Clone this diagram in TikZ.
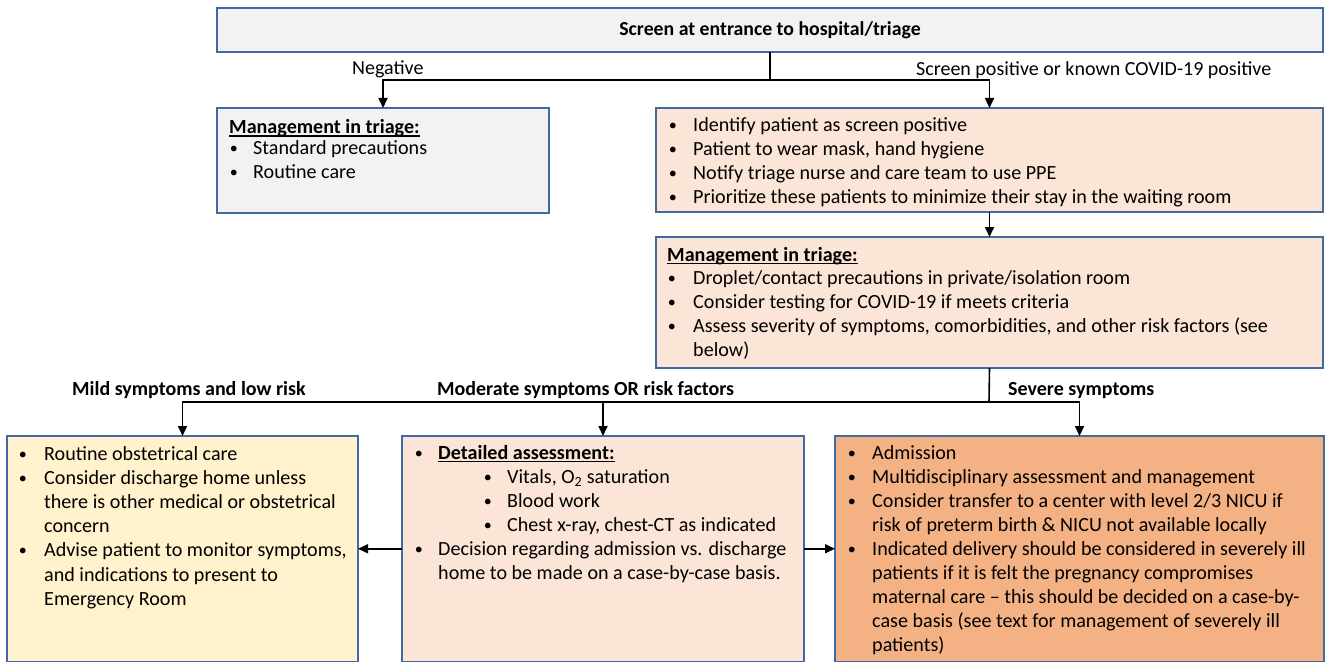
\documentclass[tikz,border=0pt]{standalone}
\usepackage{fontspec}
\setmainfont{Carlito}
\usetikzlibrary{arrows.meta}
\definecolor{bordc}{RGB}{65,105,165}
\definecolor{grayf}{HTML}{F2F2F2}
\definecolor{peachf}{HTML}{FBE5D6}
\definecolor{yellowf}{HTML}{FFF2CC}
\definecolor{orangef}{HTML}{F4B183}
\newlength\bwid
\newcommand\bul{\makebox[\bwid][l]{\hspace{0.6pt}\raisebox{1pt}{\scalebox{0.8}{\textbullet}}}}
\newcommand\ind{\hspace*{\bwid}}
\newcommand\myul[1]{\setbox0\hbox{#1}\rlap{\rule[-2.8pt]{\wd0}{1.3pt}}\box0}
\tikzset{
  box/.style={draw=bordc, line width=1.3pt, anchor=north west, inner sep=0pt, outer sep=0pt},
  conn/.style={line width=1.6pt, -{Triangle[length=10pt,width=9pt]}},
  plain/.style={line width=1.6pt},
  txt/.style={anchor=base west, inner sep=0pt, font=\fontsize{20.1}{24}\selectfont},
  lbl/.style={anchor=base west, inner sep=0pt, font=\fontsize{20}{24}\selectfont},
}
\begin{document}
\begin{tikzpicture}[x=1pt,y=-1pt]
\useasboundingbox (0,0) rectangle (1327,663);
% boxes
\node[box, fill=grayf, minimum width=1106pt, minimum height=44pt, font=\fontsize{19.8}{24}\selectfont\bfseries] (top) at (217,8) {Screen at entrance to hospital/triage};
\node[box, fill=grayf, minimum width=332pt, minimum height=105pt] (neg) at (217,108) {};
\node[box, fill=peachf, minimum width=667pt, minimum height=104pt] (pos1) at (656,108) {};
\node[box, fill=peachf, minimum width=667pt, minimum height=131pt] (pos2) at (656,237) {};
\node[box, fill=yellowf, minimum width=351pt, minimum height=225.5pt] (mild) at (7,436) {};
\node[box, fill=peachf, minimum width=402pt, minimum height=225.5pt] (mod) at (402,436) {};
\node[box, fill=orangef, minimum width=489pt, minimum height=225.5pt] (sev) at (835,436) {};
% texts
\node[txt] (negt) at (229,134) {\setlength\bwid{24pt}\begin{tabular}[t]{@{}l@{}}
\myul{\textbf{Management in triage:}}\\[-3pt]
\bul Standard precautions\\
\bul Routine care
\end{tabular}};
\node[txt, font=\fontsize{20.1}{23.7}\selectfont] (pos1t) at (668,132) {\setlength\bwid{25pt}\begin{tabular}[t]{@{}l@{}}
\bul Identify patient as screen positive\\
\bul Patient to wear mask, hand hygiene\\
\bul Notify triage nurse and care team to use PPE\\
\bul Prioritize these patients to minimize their stay in the waiting room
\end{tabular}};
\node[txt, font=\fontsize{20.1}{23.75}\selectfont] (pos2t) at (667,261) {\setlength\bwid{26pt}\begin{tabular}[t]{@{}l@{}}
\myul{\textbf{Management in triage:}}\\
\bul Droplet/contact precautions in private/isolation room\\
\bul Consider testing for COVID-19 if meets criteria\\
\bul Assess severity of symptoms, comorbidities, and other risk factors (see\\
\ind below)
\end{tabular}};
\node[txt, font=\fontsize{20.1}{24.2}\selectfont] (mildt) at (18,460) {\setlength\bwid{26pt}\begin{tabular}[t]{@{}l@{}}
\bul Routine obstetrical care\\
\bul Consider discharge home unless\\
\ind there is other medical or obstetrical\\
\ind concern\\
\bul Advise patient to monitor symptoms,\\
\ind and indications to present to\\
\ind Emergency Room
\end{tabular}};
\node[txt] (modt) at (414,459) {\setlength\bwid{24pt}\begin{tabular}[t]{@{}l@{}}
\bul \myul{\textbf{Detailed assessment:}}\\
\hspace*{69pt}\bul Vitals, O\textsubscript{2} saturation\\
\hspace*{69pt}\bul Blood work\\
\hspace*{69pt}\bul Chest x-ray, chest-CT as indicated\\
\bul Decision regarding admission vs. discharge\\
\ind home to be made on a case-by-case basis.
\end{tabular}};
\node[txt] (sevt) at (847,459) {\setlength\bwid{25pt}\begin{tabular}[t]{@{}l@{}}
\bul Admission\\
\bul Multidisciplinary assessment and management\\
\bul Consider transfer to a center with level 2/3 NICU if\\
\ind risk of preterm birth \& NICU not available locally\\
\bul Indicated delivery should be considered in severely ill\\
\ind patients if it is felt the pregnancy compromises\\
\ind maternal care – this should be decided on a case-by-\\
\ind case basis (see text for management of severely ill\\
\ind patients)
\end{tabular}};
% labels
\node[lbl] (lneg) at (352,75) {Negative};
\node[lbl] (lpos) at (916,76) {Screen positive or known COVID-19 positive};
\node[lbl, font=\fontsize{20}{24}\selectfont\bfseries] (lmild) at (72,395) {Mild symptoms and low risk};
\node[lbl, font=\fontsize{20}{24}\selectfont\bfseries] (lmod) at (437,395) {Moderate symptoms OR risk factors};
\node[lbl, font=\fontsize{20}{24}\selectfont\bfseries] (lsev) at (1008,395) {Severe symptoms};
% connectors
\coordinate (split1) at (770,80);
\coordinate (split2) at (989,402);
\draw[plain] (top.south) -- (split1);
\draw[conn] (split1) -| (neg.north);
\draw[conn] (split1) -| (pos1.north);
\draw[conn] (pos1.south) -- (pos2.north);
\draw[plain] (pos2.south) -- (split2);
\draw[conn] (split2) -| (mild.north);
\draw[conn] (split2) -| (mod.north);
\draw[conn] (split2) -| (sev.north);
\draw[conn] (mod.west) -- (mild.east);
\draw[conn] (mod.east) -- (sev.west);
\end{tikzpicture}
\end{document}
